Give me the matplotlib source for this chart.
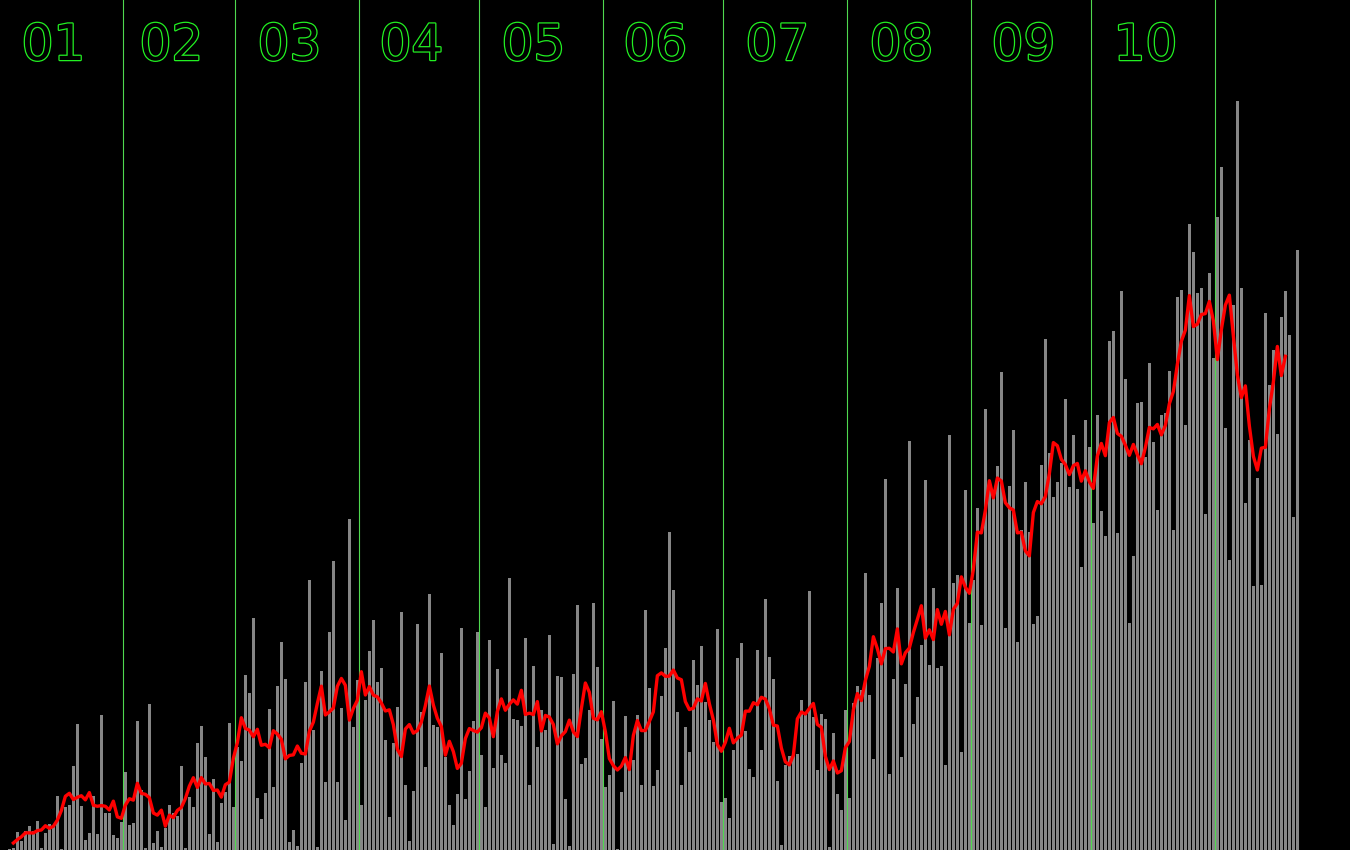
import numpy as np
import pandas as pd
import matplotlib
matplotlib.use("Agg")
import matplotlib.pyplot as plt
import matplotlib.patheffects as pe

# daily values per month (arbitrary units)
jan = [0, 0, 1, 2, 18, 9, 19, 24, 19, 29, 2, 17, 26, 23, 54, 1, 43, 45, 84, 126, 44, 10,
       17, 54, 16, 135, 37, 37, 15, 12, 28]
feb = [78, 25, 27, 129, 60, 2, 146, 7, 19, 3, 22, 45, 37, 34, 84, 2, 53, 43, 107, 124, 93,
       16, 71, 8, 47, 58, 127, 43]
mar = [103, 89, 175, 157, 232, 52, 31, 57, 141, 63, 164, 208, 171, 8, 20, 4, 87, 168, 270,
       120, 3, 179, 68, 218, 289, 68, 142, 30, 331, 123, 170]
apr = [45, 150, 199, 230, 168, 182, 110, 33, 107, 143, 238, 65, 9, 59, 226, 138, 83, 256,
       125, 123, 197, 93, 45, 25, 56, 222, 51, 79, 129, 218]
may = [95, 43, 210, 82, 181, 95, 87, 272, 131, 130, 124, 212, 65, 184, 103, 140, 120, 215,
       6, 174, 173, 51, 4, 176, 245, 86, 92, 140, 247, 183, 111]
jun = [63, 75, 149, 1, 58, 134, 80, 90, 135, 65, 240, 162, 64, 80, 154, 202, 318, 260, 138,
       65, 123, 98, 190, 165, 204, 148, 130, 108, 221, 48]
jul = [52, 32, 100, 192, 207, 119, 81, 73, 200, 100, 251, 193, 171, 69, 5, 85, 94, 97, 96,
       150, 137, 259, 133, 80, 136, 131, 3, 117, 56, 40, 140]
aug = [52, 147, 164, 160, 277, 155, 91, 192, 247, 371, 76, 171, 262, 93, 166, 409, 126, 153,
       205, 370, 185, 262, 182, 184, 85, 415, 267, 275, 98, 360, 227]
sep = [270, 342, 225, 441, 360, 355, 384, 478, 222, 364, 420, 208, 320, 368, 318, 226, 234,
       385, 511, 397, 353, 368, 387, 451, 363, 415, 361, 283, 430, 403]
oct_ = [327, 435, 339, 314, 509, 519, 317, 559, 471, 227, 294, 447, 448, 393, 487, 408, 340,
        435, 437, 479, 320, 553, 560, 425, 626, 598, 557, 562, 336, 577, 492]
nov = [633, 683, 422, 290, 545, 749, 562, 347, 410, 264, 372, 265, 537, 465, 500, 416, 533,
       559, 515, 333, 600]

month_labels = ["01", "02", "03", "04", "05", "06", "07", "08", "09", "10"]
month_days = [31, 28, 31, 30, 31, 30, 31, 31, 30, 31]

values = np.array(jan + feb + mar + apr + may + jun + jul + aug + sep + oct_ + nov, dtype=float)
days = np.arange(len(values))
avg = pd.Series(values).rolling(7, center=True).mean()

fig = plt.figure(figsize=(13.5, 8.5), dpi=100, facecolor="black")
ax = fig.add_axes([0, 0, 1, 1])
ax.set_facecolor("black")
ax.set_axis_off()

ax.bar(days, values, width=0.66, color="#868686", linewidth=0, zorder=2)
ax.plot(days, avg, color="#ff0000", linewidth=2.4, zorder=4, solid_joinstyle="round")

starts = np.concatenate([[0], np.cumsum(month_days)])
for i, lab in enumerate(month_labels):
    s = starts[i]
    if i > 0:
        ax.axvline(s - 0.5, color="#4fd84f", linewidth=0.8, zorder=3)
    ax.text(s + (month_days[i] - 1) / 2 - 2, 790, lab, ha="center", va="baseline",
            fontsize=36, family="DejaVu Sans", color="black", zorder=5,
            path_effects=[pe.withStroke(linewidth=1.8, foreground="#22f022")])
ax.axvline(starts[-1] - 0.5, color="#4fd84f", linewidth=0.8, zorder=3)

ax.set_xlim(-0.34, 337.16)
ax.set_ylim(0, 850)

fig.savefig("out.png", dpi=100, facecolor="black")
